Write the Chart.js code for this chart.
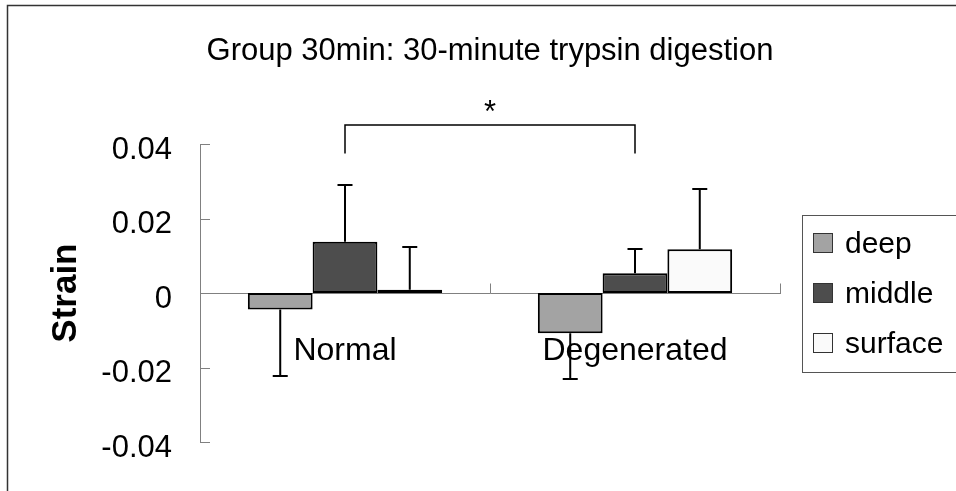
<!DOCTYPE html>
<html>
<head>
<meta charset="utf-8">
<script src="https://cdn.jsdelivr.net/npm/chart.js@4/dist/chart.umd.min.js"></script>
<style>
  html, body { margin: 0; padding: 0; background: #fff; }
  #wrap { width: 956px; height: 491px; }
</style>
</head>
<body>
<div id="wrap"><canvas id="strainChart" width="956" height="491"></canvas></div>
<script>
// Strain by cartilage layer, 30-minute trypsin group
const categories = ["Normal", "Degenerated"];
const layers = ["deep", "middle", "surface"];
const deepMean = [-0.0044, -0.0108];
const deepErr = [0.018, 0.0124];
const middleMean = [0.0138, 0.0053];
const middleErr = [0.0152, 0.0065];
const surfaceMean = [0.0009, 0.0118];
const surfaceErr = [0.0115, 0.0161];
const yTicks = [-0.04, -0.02, 0, 0.02, 0.04];

const FONT = "'Liberation Sans', Arial, sans-serif";
const layerColors = ["#a3a3a3", "#4d4d4d", "#fafafa"];
const axisGray = "#808080";

const meansByLayer = [deepMean, middleMean, surfaceMean];
const errsByLayer = [deepErr, middleErr, surfaceErr];

// outer frame of the figure
const framePlugin = {
  id: "frame",
  beforeDraw(chart) {
    const ctx = chart.ctx;
    ctx.save();
    ctx.strokeStyle = "#333";
    ctx.lineWidth = 1.5;
    ctx.strokeRect(7.5, 5.5, 1200, 1200);
    ctx.restore();
  }
};

// inward tick marks on both axes
const axisTicksPlugin = {
  id: "axisTicks",
  afterDraw(chart) {
    const { ctx, scales: { x, y } } = chart;
    ctx.save();
    ctx.strokeStyle = axisGray;
    ctx.lineWidth = 1;
    ctx.beginPath();
    y.ticks.forEach((t) => {
      const py = Math.round(y.getPixelForValue(t.value)) + 0.5;
      ctx.moveTo(x.left, py);
      ctx.lineTo(x.left + 10, py);
    });
    const zero = Math.round(y.getPixelForValue(0)) + 0.5;
    const bounds = [x.left, (x.getPixelForValue(0) + x.getPixelForValue(1)) / 2, x.right];
    bounds.forEach((bx) => {
      const px = Math.round(bx) + 0.5;
      ctx.moveTo(px, zero);
      ctx.lineTo(px, zero - 10);
    });
    ctx.stroke();
    ctx.restore();
  }
};

// one-sided error bars, bracket and significance mark
const errorBarPlugin = {
  id: "errorBars",
  afterDatasetsDraw(chart) {
    const { ctx, scales: { y } } = chart;
    ctx.save();
    ctx.strokeStyle = "#000";
    ctx.lineWidth = 2;
    chart.data.datasets.forEach((ds, di) => {
      const meta = chart.getDatasetMeta(di);
      meta.data.forEach((bar, i) => {
        const v = ds.data[i];
        const e = ds.errors[i];
        const end = v >= 0 ? v + e : v - e;
        const y0 = y.getPixelForValue(v);
        const y1 = Math.round(y.getPixelForValue(end));
        ctx.beginPath();
        ctx.moveTo(bar.x, y0);
        ctx.lineTo(bar.x, y1);
        ctx.moveTo(bar.x - 7.5, y1);
        ctx.lineTo(bar.x + 7.5, y1);
        ctx.stroke();
      });
    });

    // bracket between the two middle-layer bars
    const mid = chart.getDatasetMeta(1).data;
    const top = Math.round(y.getPixelForValue(0.0452));
    const leg = y.getPixelForValue(0.0375);
    ctx.lineWidth = 1.5;
    ctx.beginPath();
    ctx.moveTo(mid[0].x, leg);
    ctx.lineTo(mid[0].x, top);
    ctx.lineTo(mid[1].x, top);
    ctx.lineTo(mid[1].x, leg);
    ctx.stroke();

    ctx.fillStyle = "#000";
    ctx.font = "31px " + FONT;
    ctx.textAlign = "center";
    ctx.textBaseline = "alphabetic";
    ctx.fillText("*", (mid[0].x + mid[1].x) / 2, top - 3);
    ctx.restore();
  }
};

// boxed legend on the right
const legendBoxPlugin = {
  id: "legendBox",
  afterDraw(chart) {
    const { ctx, chartArea } = chart;
    const cy = (chartArea.top + chartArea.bottom) / 2;
    const rowGap = 50;
    const left = 802.5;
    ctx.save();
    ctx.strokeStyle = "#555";
    ctx.lineWidth = 1;
    ctx.strokeRect(left, Math.round(cy - 78.5) + 0.5, 300, 157);
    ctx.font = "30px " + FONT;
    ctx.textAlign = "left";
    ctx.textBaseline = "middle";
    chart.data.datasets.forEach((ds, i) => {
      const ry = cy + (i - 1) * rowGap;
      ctx.fillStyle = ds.backgroundColor;
      ctx.fillRect(813.5, Math.round(ry - 10) + 0.5, 19, 19);
      ctx.strokeStyle = "#333";
      ctx.strokeRect(813.5, Math.round(ry - 10) + 0.5, 19, 19);
      ctx.fillStyle = "#000";
      ctx.fillText(ds.label, 845, ry + 2);
    });
    ctx.restore();
  }
};

const datasets = layers.map((name, i) => ({
  label: name,
  data: meansByLayer[i],
  errors: errsByLayer[i],
  backgroundColor: layerColors[i],
  borderColor: "#000",
  borderWidth: 2,
  borderSkipped: false,
  categoryPercentage: 0.67,
  barPercentage: 1.0
}));

new Chart(document.getElementById("strainChart"), {
  type: "bar",
  data: { labels: categories, datasets: datasets },
  options: {
    responsive: false,
    devicePixelRatio: 1,
    animation: false,
    events: [],
    layout: { padding: { left: 0, right: 176, top: 0, bottom: 49 } },
    plugins: {
      legend: { display: false },
      tooltip: { enabled: false },
      title: {
        display: true,
        fullSize: false,
        text: "Group 30min: 30-minute trypsin digestion",
        color: "#000",
        font: { family: FONT, size: 31, weight: "normal" },
        padding: { top: 33, bottom: 74 }
      }
    },
    scales: {
      x: {
        position: { y: 0 },
        offset: true,
        grid: { display: false },
        border: { display: true, color: axisGray, width: 1 },
        ticks: {
          color: "#000",
          padding: 31,
          font: { family: FONT, size: 32 }
        },
        afterFit(scale) { scale.height = 0; }
      },
      y: {
        min: -0.04,
        max: 0.04,
        grid: { display: false },
        border: { display: true, color: axisGray, width: 1 },
        afterBuildTicks(scale) {
          scale.ticks = yTicks.map((v) => ({ value: v }));
        },
        ticks: {
          color: "#000",
          padding: 20,
          labelOffset: 6,
          font: { family: FONT, size: 31 },
          callback: (v) => String(Number(v.toFixed(2)))
        },
        title: {
          display: true,
          text: "Strain",
          color: "#000",
          font: { family: FONT, size: 35, weight: "bold" },
          padding: { top: 45, bottom: 0 }
        },
        afterFit(scale) { scale.width = 200; }
      }
    }
  },
  plugins: [framePlugin, axisTicksPlugin, errorBarPlugin, legendBoxPlugin]
});
</script>
</body>
</html>
